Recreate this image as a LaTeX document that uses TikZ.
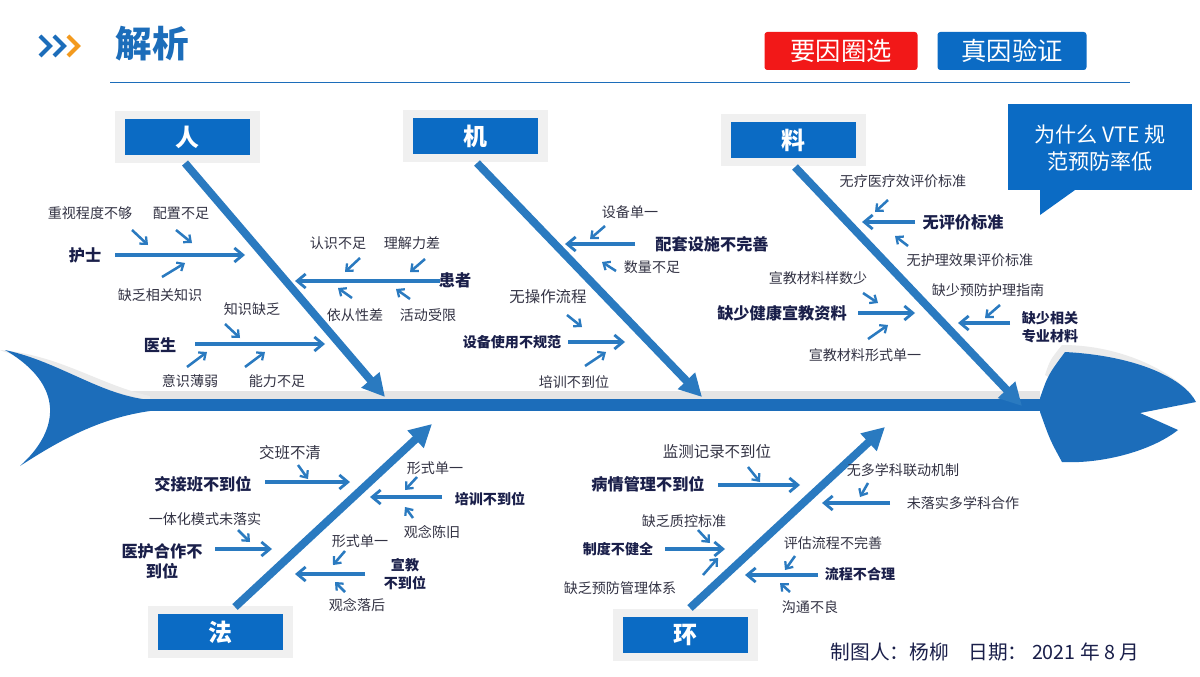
\documentclass[tikz,border=0pt]{standalone}
\usepackage{fontspec}
\setmainfont{Noto Sans CJK SC}
\usetikzlibrary{arrows.meta}
\definecolor{mb}{HTML}{1C6DBA}
\definecolor{bx}{HTML}{0B6BC4}
\definecolor{bone}{HTML}{2A7AC0}
\definecolor{txt}{HTML}{333344}
\definecolor{dk}{HTML}{1A1F4A}
\definecolor{rd}{HTML}{F21818}
\definecolor{org}{HTML}{F39A1E}
\begin{document}
\begin{tikzpicture}[x=0.025cm,y=-0.025cm,
 lab/.style={font=\fontsize{10}{12}\selectfont,text=txt,align=center},
 blab/.style={font=\bfseries\fontsize{11.5}{14}\selectfont,text=dk,align=center},
 cat/.style={fill=bx,text=white,font=\bfseries\fontsize{17}{20}\selectfont,minimum width=125*0.025cm,minimum height=36*0.025cm},
 catbg/.style={fill=black!6,minimum width=145*0.025cm,minimum height=52*0.025cm},
 bonearrow/.style={bone,line width=5.6pt,-{Triangle[length=16pt,width=16pt]}},
 sub/.style={bone,line width=3pt,-{Straight Barb[length=6pt,width=10pt,line width=2pt]}},
 sm/.style={bone,line width=1.8pt,-{Straight Barb[length=4pt,width=7pt,line width=1.6pt]}}]
\useasboundingbox (0,0) rectangle (1200,676);
\fill[white] (0,0) rectangle (1200,676);
% header
\foreach \dx/\c in {0/mb,14/mb,28/org}
  \draw[\c,line width=3pt] (40+\dx,36) -- (50+\dx,46) -- (40+\dx,56);
\node[font=\bfseries\fontsize{26}{30}\selectfont,text=mb] (title) at (152,44) {解析};
\node[fill=rd,text=white,font=\fontsize{18}{20}\selectfont,minimum width=153*0.025cm,minimum height=38*0.025cm,rounded corners=2pt] (b1) at (841,51) {要因圈选};
\node[fill=bx,text=white,font=\fontsize{18}{20}\selectfont,minimum width=149*0.025cm,minimum height=38*0.025cm,rounded corners=2pt] (b2) at (1012,51) {真因验证};
\draw[mb,line width=0.7pt] (110,82) -- (1130,82);
% question box
\fill[bx] (1008,104) rectangle (1192,190);
\fill[bx] (1040,190) -- (1040,215) -- (1075,190) -- cycle;
\node[text=white,font=\fontsize{15}{19}\selectfont,align=center] (q) at (1100,148) {为什么 VTE 规\\范预防率低};
% spine shadow
\draw[black!10,line width=7pt] (110,396) -- (1040,396);
\fill[black!8] (0,350) .. controls (60,355) and (100,385) .. (150,396) -- (150,400) .. controls (100,392) and (50,365) .. (5,352) -- cycle;
% tail
\fill[mb] (5,350) .. controls (60,362) and (100,395) .. (150,400) -- (150,411) .. controls (100,418) and (60,440) .. (20,466) .. controls (60,430) and (65,385) .. (5,350) -- cycle;
% spine
\coordinate (s0) at (110,405); \coordinate (s1) at (1050,405);
\draw[mb,line width=8.5pt] (s0) -- (s1);
% head
\fill[black!8] (1045,375) .. controls (1050,360) .. (1062,345) .. controls (1120,345) and (1170,370) .. (1192,395) .. controls (1160,372) and (1110,355) .. (1068,352) .. controls (1058,365) .. (1050,378) -- cycle;
\fill[mb] (1040,398) .. controls (1048,375) .. (1065,352) .. controls (1140,356) and (1185,380) .. (1196,402) -- (1140,413) -- (1178,430) .. controls (1150,452) and (1100,464) .. (1062,462) .. controls (1050,440) .. (1040,412) -- cycle;
% category boxes
\foreach \n/\t/\x/\y in {r/人/187/137, j/机/475/136, l/料/793/140, f/法/220/632, h/环/685/635}{
  \node[catbg] (\n bg) at (\x,\y) {};
  \node[cat] (\n) at (\x,\y) {\t};
}
% main bones
\coordinate (rE) at (385,397); \coordinate (jE) at (702,397); \coordinate (lE) at (1022,406);
\coordinate (fE) at (432,424); \coordinate (hE) at (885,427);
\draw[bonearrow] (185,163) -- (rE);
\draw[bonearrow] (477,163) -- (jE);
\draw[bonearrow] (795,167) -- (lE);
\draw[bonearrow] (235,607) -- (fE);
\draw[bonearrow] (690,608) -- (hE);
% ---- 人
\node[blab] (hs) at (85,255) {护士};
\draw[sub] (115,255) -- (245,255);
\node[lab] (t1) at (90,213) {重视程度不够};
\node[lab] (t2) at (181,213) {配置不足};
\node[lab] (t3) at (160,295) {缺乏相关知识};
\draw[sm] (132,230) -- (148,245); \draw[sm] (176,230) -- (192,243); \draw[sm] (162,277) -- (185,263);
\node[blab] (hz) at (455,280) {患者};
\draw[sub] (440,281) -- (295,281);
\node[lab] (t4) at (338,243) {认识不足};
\node[lab] (t5) at (412,243) {理解力差};
\node[lab] (t6) at (355,315) {依从性差};
\node[lab] (t7) at (428,315) {活动受限};
\draw[sm] (360,258) -- (345,272); \draw[sm] (425,259) -- (410,272);
\draw[sm] (352,298) -- (338,288); \draw[sm] (410,299) -- (396,289);
\node[blab] (ys) at (160,345) {医生};
\draw[sub] (195,344) -- (325,344);
\node[lab] (t8) at (252,309) {知识缺乏};
\node[lab] (t9) at (190,381) {意识薄弱};
\node[lab] (t10) at (277,381) {能力不足};
\draw[sm] (225,324) -- (240,338); \draw[sm] (187,367) -- (207,352); \draw[sm] (245,367) -- (265,352);
% ---- 机
\node[blab] (pt) at (712,244) {配套设施不完善};
\draw[sub] (635,244) -- (565,244);
\node[lab] (t11) at (630,212) {设备单一};
\node[lab] (t12) at (652,267) {数量不足};
\draw[sm] (605,226) -- (590,239); \draw[sm] (616,271) -- (602,262);
\node[blab,font=\bfseries\fontsize{10}{12}\selectfont] (sb) at (512,342) {设备使用不规范};
\draw[sub] (568,342) -- (625,342);
\node[lab,font=\fontsize{11}{13}\selectfont] (t13) at (548,297) {无操作流程};
\node[lab] (t14) at (574,382) {培训不到位};
\draw[sm] (567,315) -- (582,327); \draw[sm] (585,366) -- (606,352);
% ---- 料
\node[blab] (wp) at (963,222) {无评价标准};
\draw[sub] (915,222) -- (862,222);
\node[lab] (t15) at (903,181) {无疗医疗效评价标准};
\node[lab] (t16) at (970,260) {无护理效果评价标准};
\draw[sm] (888,200) -- (875,212); \draw[sm] (908,246) -- (895,236);
\node[blab] (qs) at (782,313) {缺少健康宣教资料};
\draw[sub] (858,313) -- (915,313);
\node[lab] (t17) at (818,278) {宣教材料样数少};
\node[lab] (t18) at (865,355) {宣教材料形式单一};
\draw[sm] (863,293) -- (878,303); \draw[sm] (868,339) -- (888,325);
\node[blab,font=\bfseries\fontsize{10}{13}\selectfont] (qz) at (1050,327) {缺少相关\\专业材料};
\draw[sub] (1010,323) -- (958,323);
\node[lab] (t19) at (988,290) {缺少预防护理指南};
\draw[sm] (1000,305) -- (985,318);
% ---- 法
\node[blab] (jj) at (203,484) {交接班不到位};
\draw[sub] (265,482) -- (350,482);
\node[lab,font=\fontsize{11}{13}\selectfont] (t20) at (290,453) {交班不清};
\draw[sm] (298,465) -- (308,479);
\node[blab,font=\bfseries\fontsize{10}{12}\selectfont] (px) at (490,499) {培训不到位};
\draw[sub] (442,497) -- (370,497);
\node[lab] (t21) at (435,468) {形式单一};
\node[lab] (t22) at (432,532) {观念陈旧};
\draw[sm] (417,477) -- (405,490); \draw[sm] (413,518) -- (405,507);
\node[blab] (yh) at (162,561) {医护合作不\\到位};
\draw[sub] (215,549) -- (272,549);
\node[lab] (t23) at (205,519) {一体化模式未落实};
\draw[sm] (238,530) -- (250,542);
\node[blab,font=\bfseries\fontsize{10}{13}\selectfont] (xj) at (405,574) {宣教\\不到位};
\draw[sub] (365,574) -- (295,574);
\node[lab] (t24) at (360,541) {形式单一};
\node[lab] (t25) at (357,605) {观念落后};
\draw[sm] (345,551) -- (333,565); \draw[sm] (345,592) -- (335,582);
% ---- 环
\node[blab] (bq) at (648,484) {病情管理不到位};
\draw[sub] (718,485) -- (800,485);
\node[lab,font=\fontsize{11}{13}\selectfont] (t26) at (717,452) {监测记录不到位};
\draw[sm] (748,467) -- (760,482);
\node[lab] (wl) at (963,503) {未落实多学科合作};
\draw[sub] (890,503) -- (822,503);
\node[lab] (t27) at (903,470) {无多学科联动机制};
\draw[sm] (868,483) -- (860,497);
\node[blab,font=\bfseries\fontsize{10}{12}\selectfont] (zd) at (618,549) {制度不健全};
\draw[sub] (665,549) -- (725,549);
\node[lab] (t28) at (684,521) {缺乏质控标准};
\node[lab] (t29) at (620,588) {缺乏预防管理体系};
\draw[sm] (698,530) -- (710,543); \draw[sm] (703,575) -- (718,558);
\node[blab,font=\bfseries\fontsize{10}{12}\selectfont] (lc) at (860,574) {流程不合理};
\draw[sub] (818,575) -- (745,575);
\node[lab] (t30) at (833,543) {评估流程不完善};
\node[lab] (t31) at (810,607) {沟通不良};
\draw[sm] (795,556) -- (785,570); \draw[sm] (790,592) -- (780,583);
% footer
\node[font=\fontsize{14}{16}\selectfont,text=dk] (ft) at (985,652) {制图人：杨柳\quad 日期： 2021 年 8 月};
\end{tikzpicture}
\end{document}
